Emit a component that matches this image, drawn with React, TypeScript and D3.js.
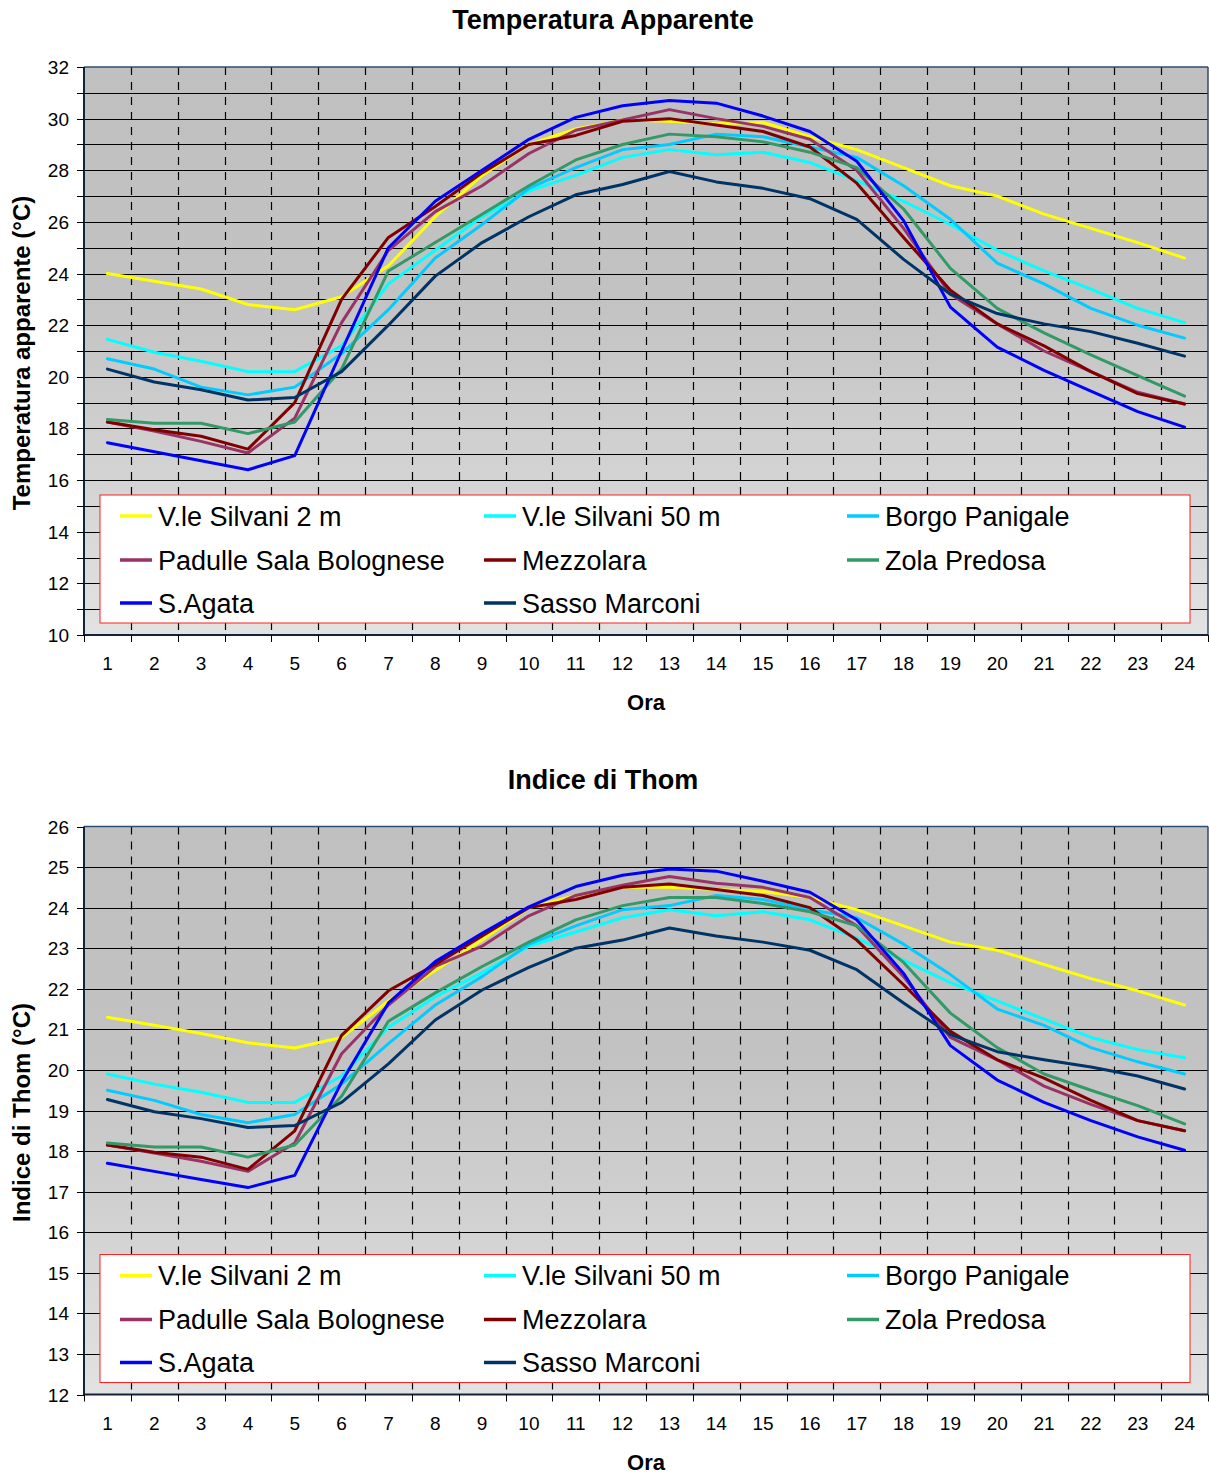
import React from 'react';
import * as d3 from 'd3';

// Hours of the day (category axis)
const hours = [1, 2, 3, 4, 5, 6, 7, 8, 9, 10, 11, 12, 13, 14, 15, 16, 17, 18, 19, 20, 21, 22, 23, 24];

const seriesNames = [
  'V.le Silvani 2 m',
  'V.le Silvani 50 m',
  'Borgo Panigale',
  'Padulle Sala Bolognese',
  'Mezzolara',
  'Zola Predosa',
  'S.Agata',
  'Sasso Marconi',
];
const seriesColors = ['#ffff00', '#00ffff', '#00ccff', '#993366', '#800000', '#339966', '#0000ff', '#003366'];

// Temperatura apparente (°C)
const tappSilvani2 = [24.0, 23.7, 23.4, 22.8, 22.6, 23.1, 24.3, 26.2, 27.8, 29.0, 29.6, 29.95, 29.9, 29.8, 29.85, 29.3, 28.8, 28.1, 27.4, 27.0, 26.3, 25.75, 25.2, 24.6];
const tappSilvani50 = [21.45, 20.95, 20.6, 20.2, 20.2, 21.2, 23.6, 24.9, 26.2, 27.2, 27.8, 28.5, 28.8, 28.6, 28.7, 28.3, 27.6, 26.8, 25.9, 24.9, 24.1, 23.4, 22.65, 22.1];
const tappBorgo = [20.7, 20.3, 19.6, 19.3, 19.6, 20.9, 22.6, 24.6, 25.9, 27.3, 28.1, 28.8, 29.0, 29.4, 29.3, 28.9, 28.5, 27.4, 26.1, 24.4, 23.6, 22.65, 22.0, 21.5];
const tappPadulle = [18.25, 17.9, 17.5, 17.05, 18.4, 22.1, 24.9, 26.4, 27.4, 28.65, 29.55, 29.95, 30.35, 30.0, 29.7, 29.2, 28.0, 25.75, 23.2, 22.05, 21.0, 20.2, 19.4, 18.95];
const tappMezzolara = [18.25, 17.95, 17.7, 17.2, 19.0, 23.0, 25.4, 26.6, 27.9, 29.0, 29.35, 29.9, 30.0, 29.75, 29.5, 28.9, 27.5, 25.4, 23.35, 22.05, 21.2, 20.2, 19.35, 18.95];
const tappZola = [18.35, 18.2, 18.2, 17.8, 18.25, 20.3, 24.1, 25.2, 26.3, 27.4, 28.4, 29.0, 29.4, 29.3, 29.1, 28.7, 28.1, 26.5, 24.2, 22.65, 21.7, 20.85, 20.05, 19.25];
const tappSAgata = [17.45, 17.1, 16.75, 16.4, 16.95, 21.0, 25.0, 26.8, 28.0, 29.2, 30.05, 30.5, 30.7, 30.6, 30.1, 29.5, 28.35, 26.05, 22.7, 21.15, 20.25, 19.45, 18.65, 18.05];
const tappSasso = [20.3, 19.8, 19.5, 19.1, 19.2, 20.2, 22.0, 23.9, 25.2, 26.2, 27.05, 27.45, 27.95, 27.55, 27.3, 26.9, 26.1, 24.55, 23.2, 22.45, 22.05, 21.75, 21.3, 20.8];

// Indice di Thom (°C)
const thomSilvani2 = [21.3, 21.1, 20.9, 20.67, 20.54, 20.8, 21.7, 22.45, 23.2, 24.0, 24.3, 24.5, 24.5, 24.45, 24.4, 24.25, 23.95, 23.55, 23.15, 22.95, 22.6, 22.25, 21.95, 21.6];
const thomSilvani50 = [19.9, 19.65, 19.45, 19.2, 19.2, 19.85, 21.05, 21.8, 22.4, 23.05, 23.4, 23.75, 23.95, 23.8, 23.9, 23.7, 23.25, 22.7, 22.15, 21.7, 21.25, 20.8, 20.5, 20.3];
const thomBorgo = [19.5, 19.25, 18.9, 18.7, 18.9, 19.65, 20.65, 21.6, 22.3, 23.1, 23.55, 23.95, 24.05, 24.3, 24.2, 23.95, 23.75, 23.1, 22.35, 21.5, 21.1, 20.55, 20.2, 19.9];
const thomPadulle = [18.15, 17.95, 17.75, 17.5, 18.2, 20.4, 21.6, 22.55, 23.05, 23.8, 24.3, 24.55, 24.77, 24.6, 24.5, 24.25, 23.55, 22.3, 20.8, 20.25, 19.6, 19.15, 18.75, 18.5];
const thomMezzolara = [18.15, 17.97, 17.85, 17.55, 18.5, 20.85, 21.95, 22.6, 23.3, 24.0, 24.2, 24.5, 24.58, 24.45, 24.3, 24.0, 23.2, 22.1, 20.95, 20.25, 19.8, 19.25, 18.75, 18.5];
const thomZola = [18.2, 18.1, 18.1, 17.85, 18.15, 19.35, 21.2, 21.9, 22.55, 23.15, 23.7, 24.05, 24.25, 24.25, 24.1, 23.9, 23.55, 22.65, 21.4, 20.55, 19.9, 19.5, 19.12, 18.67];
const thomSAgata = [17.7, 17.5, 17.3, 17.1, 17.4, 19.7, 21.65, 22.67, 23.37, 24.02, 24.52, 24.8, 24.95, 24.9, 24.65, 24.38, 23.7, 22.38, 20.6, 19.75, 19.2, 18.75, 18.35, 18.02];
const thomSasso = [19.27, 18.97, 18.8, 18.58, 18.63, 19.2, 20.15, 21.23, 21.97, 22.53, 23.0, 23.2, 23.5, 23.3, 23.15, 22.95, 22.47, 21.65, 20.87, 20.45, 20.25, 20.07, 19.85, 19.53];

const tappSeries = [tappSilvani2, tappSilvani50, tappBorgo, tappPadulle, tappMezzolara, tappZola, tappSAgata, tappSasso];
const thomSeries = [thomSilvani2, thomSilvani50, thomBorgo, thomPadulle, thomMezzolara, thomZola, thomSAgata, thomSasso];

const FONT = '"Liberation Sans", Arial, Helvetica, sans-serif';

interface ChartProps {
  offset: number;
  title: string;
  yLabel: string;
  yMin: number;
  yMax: number;
  labelStep: number;
  series: number[][];
}

function Chart({ offset, title, yLabel, yMin, yMax, labelStep, series }: ChartProps) {
  const left = 84;
  const right = 1208;
  const plotTop = offset + 67;
  const plotBottom = offset + 635;

  const x = d3.scaleBand<string>().domain(hours.map(String)).range([left, right]).padding(0);
  const y = d3.scaleLinear().domain([yMin, yMax]).range([plotBottom, plotTop]);
  const cx = (i: number) => (x(String(hours[i])) as number) + x.bandwidth() / 2;

  const line = d3
    .line<number>()
    .x((_, i) => cx(i))
    .y((d) => y(d));

  const yTicks = d3.range(yMin, yMax + 1);
  const bounds = hours.map((h) => x(String(h)) as number).concat([right]);

  const legendCols = [120, 484, 847];
  const legendRows = [offset + 516, offset + 560, offset + 603];

  return (
    <g>
      <rect x={left} y={plotTop} width={right - left} height={plotBottom - plotTop} fill="url(#plotBg)" />

      {/* horizontal grid */}
      {yTicks
        .filter((t) => t !== yMin && t !== yMax)
        .map((t) => (
          <line key={'h' + t} x1={left} x2={right} y1={Math.round(y(t)) + 0.5} y2={Math.round(y(t)) + 0.5} stroke="#000" strokeWidth={1} />
        ))}

      {/* vertical dashed grid */}
      {bounds.slice(1, -1).map((b, i) => (
        <line key={'v' + i} x1={Math.round(b) + 0.5} x2={Math.round(b) + 0.5} y1={plotTop} y2={plotBottom} stroke="#000" strokeWidth={1.2} strokeDasharray="8,7" />
      ))}

      {/* plot border */}
      <line x1={left} x2={right} y1={plotTop} y2={plotTop} stroke="#2d4d70" strokeWidth={1.5} />
      <line x1={right} x2={right} y1={plotTop} y2={plotBottom} stroke="#2d4d70" strokeWidth={1.5} />

      {/* series */}
      {series.map((s, i) => (
        <path key={'s' + i} d={line(s) as string} fill="none" stroke={seriesColors[i]} strokeWidth={3} strokeLinejoin="round" strokeLinecap="round" />
      ))}

      {/* axes */}
      <line x1={left} x2={left} y1={plotTop} y2={plotBottom} stroke="#14233a" strokeWidth={2} />
      <line x1={left - 1} x2={right} y1={plotBottom} y2={plotBottom} stroke="#14233a" strokeWidth={2} />

      {yTicks.map((t) => (
        <line key={'yt' + t} x1={77} x2={left} y1={Math.round(y(t)) + 0.5} y2={Math.round(y(t)) + 0.5} stroke="#000" strokeWidth={1} />
      ))}
      {yTicks
        .filter((t) => (t - yMin) % labelStep === 0)
        .map((t) => (
          <text key={'yl' + t} x={69} y={y(t) + 7} textAnchor="end" fontSize={19} fontFamily={FONT} fill="#000">
            {t}
          </text>
        ))}

      {bounds.map((b, i) => (
        <line key={'xt' + i} x1={Math.round(b) + 0.5} x2={Math.round(b) + 0.5} y1={plotBottom} y2={plotBottom + 7} stroke="#000" strokeWidth={1} />
      ))}
      {hours.map((h, i) => (
        <text key={'xl' + h} x={cx(i)} y={offset + 670} textAnchor="middle" fontSize={19} fontFamily={FONT} fill="#000">
          {h}
        </text>
      ))}

      {/* titles */}
      <text x={603} y={offset + 29} textAnchor="middle" fontSize={27} fontWeight="bold" fontFamily={FONT} fill="#000">
        {title}
      </text>
      <text x={646} y={offset + 710} textAnchor="middle" fontSize={22} fontWeight="bold" fontFamily={FONT} fill="#000">
        Ora
      </text>
      <text
        transform={`translate(30,${(plotTop + plotBottom) / 2 + 2}) rotate(-90)`}
        textAnchor="middle"
        fontSize={24}
        fontWeight="bold"
        fontFamily={FONT}
        fill="#000"
      >
        {yLabel}
      </text>

      {/* legend */}
      <rect x={100} y={offset + 495} width={1090} height={128} fill="#fff" stroke="#ff2020" strokeWidth={1} />
      {seriesNames.map((name, i) => {
        const col = legendCols[i % 3];
        const row = legendRows[Math.floor(i / 3)];
        return (
          <g key={'lg' + i}>
            <line x1={col} x2={col + 32} y1={row} y2={row} stroke={seriesColors[i]} strokeWidth={3.5} />
            <text x={col + 38} y={row + 9.5} fontSize={27} fontFamily={FONT} fill="#000">
              {name}
            </text>
          </g>
        );
      })}
    </g>
  );
}

export default function App() {
  return (
    <div style={{ position: 'absolute', left: 0, top: 0 }}>
      <svg width={1209} height={1474} style={{ display: 'block', background: '#fff' }}>
        <defs>
          <linearGradient id="plotBg" x1="0" y1="0" x2="0" y2="1">
            <stop offset="0" stopColor="#c0c0c0" />
            <stop offset="0.4" stopColor="#c2c2c2" />
            <stop offset="1" stopColor="#e2e2e2" />
          </linearGradient>
        </defs>
        <Chart offset={0} title="Temperatura Apparente" yLabel="Temperatura apparente (°C)" yMin={10} yMax={32} labelStep={2} series={tappSeries} />
        <Chart offset={759.5} title="Indice di Thom" yLabel="Indice di Thom (°C)" yMin={12} yMax={26} labelStep={1} series={thomSeries} />
      </svg>
    </div>
  );
}
